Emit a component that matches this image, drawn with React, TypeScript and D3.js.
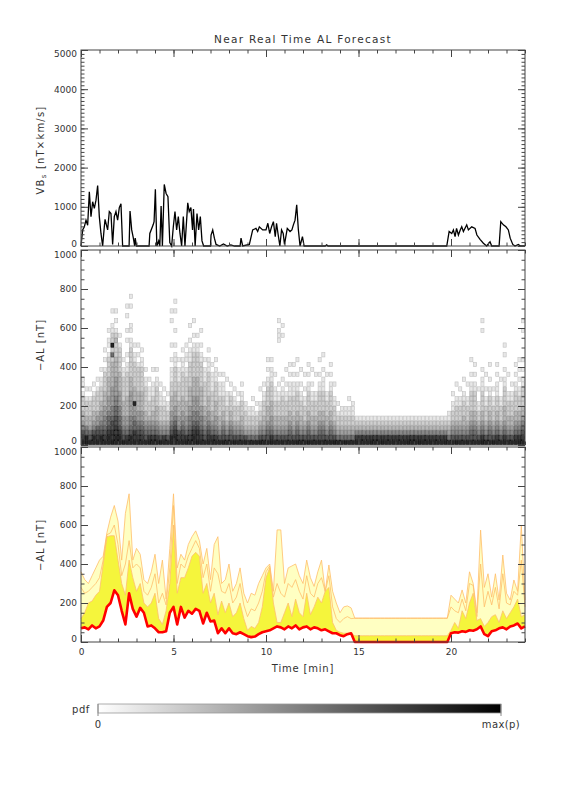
import React, { useRef, useEffect } from 'react';
import * as d3 from 'd3';

// top panel: VBs line (time in min, value in nT*km/s)
const vbsTime = [
  0, 0.09, 0.18, 0.27, 0.36, 0.45, 0.54, 0.63, 0.72, 0.81, 0.9, 0.99, 1.08, 1.17, 1.26, 1.3, 1.44, 1.53, 1.62, 1.71,
  1.8, 1.89, 1.98, 2.07, 2.16, 2.25, 2.6, 2.65, 2.74, 2.83, 2.9, 2.93, 3.0, 3.68, 3.72, 3.9, 3.95, 4.02, 4.1, 4.2,
  4.26, 4.33, 4.4, 4.5, 4.6, 4.7, 4.8, 4.9, 4.99, 5.08, 5.17, 5.26, 5.35, 5.44, 5.53, 5.62, 5.77, 5.85, 5.94, 6.03,
  6.08, 6.17, 6.27, 6.36, 6.45, 6.54, 6.63, 7.0, 7.03, 7.12, 7.21, 7.3, 7.5, 7.7, 7.9, 8.1, 8.3, 8.6, 8.65, 8.74,
  9.1, 9.28, 9.46, 9.55, 9.64, 9.82, 10.0, 10.1, 10.2, 10.3, 10.4, 10.5, 10.57, 10.66, 10.75, 10.84, 10.93, 11.0, 11.15, 11.3,
  11.4, 11.48, 11.57, 11.66, 11.75, 11.84, 11.97, 12.06, 13.2, 13.28, 13.35, 19.77, 19.9, 20.04, 20.13, 20.22, 20.3, 20.4, 20.5, 20.58,
  20.67, 20.85, 20.94, 21.12, 21.3, 21.4, 21.57, 21.75, 21.93, 22.11, 22.2, 22.6, 22.69, 22.83, 22.97, 23.1, 23.2, 23.34, 23.46, 23.64,
  23.75, 24,
];
const vbsValue = [
  0, 410, 490, 660, 530, 1380, 750, 1130, 960, 1170, 1540, 750, 320, 0, 490, 680, 410, 880, 830, 40,
  750, 880, 660, 980, 1080, 0, 0, 890, 410, 200, 0, 200, 0, 0, 320, 540, 620, 1450, 0, 130,
  0, 1020, 0, 1570, 1340, 1260, 85, 0, 490, 880, 410, 750, 320, 0, 750, 0, 1100, 880, 980, 410,
  940, 0, 830, 410, 750, 130, 0, 0, 280, 410, 200, 40, 0, 50, 0, 30, 0, 0, 200, 0,
  40, 410, 450, 370, 490, 410, 410, 580, 320, 490, 620, 240, 580, 280, 0, 410, 320, 40, 450, 370,
  410, 540, 660, 1050, 410, 0, 240, 0, 0, 30, 0, 0, 370, 320, 410, 240, 450, 280, 410, 490,
  370, 540, 410, 490, 450, 280, 170, 70, 0, 110, 0, 0, 620, 540, 490, 410, 200, 40, 0, 40,
  0, 0,
];

// bottom panel: forecast bands, one value every 0.2 min from 0 to 24
const bandStep = 0.2;
const alRed = [
  70, 75, 65, 85, 70, 80, 110, 180, 200, 265,
  240, 160, 90, 250, 170, 130, 175, 150, 80, 85,
  70, 50, 50, 55, 150, 180, 90, 180, 125, 160,
  145, 170, 160, 95, 150, 105, 110, 45, 70, 45,
  70, 45, 40, 50, 40, 30, 25, 28, 40, 50,
  55, 60, 70, 80, 75, 65, 80, 70, 85, 65,
  75, 80, 65, 75, 70, 60, 65, 55, 45, 45,
  35, 30, 40, 45, 0, 0, 0, 0, 0, 0,
  0, 0, 0, 0, 0, 0, 0, 0, 0, 0,
  0, 0, 0, 0, 0, 0, 0, 0, 0, 0,
  45, 50, 48, 55, 52, 60, 58, 65, 80, 40,
  30, 55, 60, 70, 75, 65, 80, 85, 95, 70,
  80,
];
const alYellow = [
  120, 150, 200, 210, 240, 260, 400, 540, 545, 545,
  420, 300, 240, 420, 330, 260, 300, 200, 180, 200,
  250, 120, 90, 160, 300, 600, 250, 330, 330, 380,
  440, 460, 440, 250, 300, 200, 250, 140, 210, 150,
  200, 130, 150, 200, 120, 60, 80, 70, 100, 180,
  330, 380, 200, 100, 100, 150, 200, 130, 220, 150,
  130, 250, 140, 180, 230, 200, 260, 280, 100, 60,
  50, 45, 45, 45, 32, 32, 32, 32, 32, 32,
  32, 32, 32, 32, 32, 32, 32, 32, 32, 32,
  32, 32, 32, 32, 32, 32, 32, 32, 32, 32,
  60, 100, 70, 160, 120, 200, 250, 110, 120, 80,
  100, 130, 140, 100, 160, 120, 150, 180, 220, 130,
  140,
];
const alMid = [
  280, 250, 260, 280, 300, 330, 420, 550, 560, 600,
  500, 340, 400, 520, 380, 400, 380, 260, 240, 280,
  350, 200, 250, 190, 380, 700, 300, 400, 380, 440,
  480, 520, 480, 330, 400, 260, 380, 350, 260, 250,
  300, 200, 230, 300, 190, 130, 170, 160, 200, 260,
  360, 390, 230, 300, 250, 230, 300, 280, 320, 260,
  220, 340, 250, 230, 300, 330, 260, 340, 180, 120,
  100, 120, 130, 120, 122, 122, 122, 122, 122, 122,
  122, 122, 122, 122, 122, 122, 122, 122, 122, 122,
  122, 122, 122, 122, 122, 122, 122, 122, 122, 122,
  180, 160, 150, 220, 160, 300, 290, 130, 400, 180,
  260, 190, 280, 170, 350, 200, 190, 260, 240, 420,
  180,
];
const alPale = [
  360, 320, 300, 340, 380, 420, 440, 560, 640, 700,
  620, 420, 660, 760, 420, 480, 450, 320, 300, 360,
  450, 300, 420, 220, 480, 760, 380, 450, 420, 500,
  540, 570, 520, 400, 480, 320, 500, 540, 300, 320,
  400, 260, 300, 380, 250, 200, 250, 240, 300, 340,
  380, 400, 260, 575, 575, 300, 380, 390, 400, 340,
  300, 420, 330, 285, 360, 420, 260, 395, 260, 200,
  150, 180, 185, 175, 122, 122, 122, 122, 122, 122,
  122, 122, 122, 122, 122, 122, 122, 122, 122, 122,
  122, 122, 122, 122, 122, 122, 122, 122, 122, 122,
  240, 220, 200, 267, 200, 360, 300, 150, 574, 280,
  350, 230, 350, 215, 446, 250, 215, 318, 260, 600,
  215,
];

// middle panel: pdf, one column per 0.2 min, one digit (0-9) per 25 nT bin from 0 upward
const pdfBin = 25;
const flat = '985321';
const pdfColumns = [
  '98754332221011', '9965332221010', '976433222101', '99754332221010', '98764432222101',
  '9976544332221101', '98765544333222210101', '998766544433332222101101', '9887765544443333326292211001', '9988776655444433332223210101',
  '99876655444333322222101', '9765443332222211010', '98654433332222211010010100101', '9976554444433322222211011000101', '9886654493332222211010',
  '987654433332222210101', '98765443333222221101', '97654332222211010', '986543222111010', '9865433222111001',
  '98654333222211010', '9754322211101', '985432221101', '97543221101', '9976544333222111010010000101',
  '998765443332222211101001000101', '9875443332222111010', '98765443332222211101', '986544333222221101101', '9876554433332222211101001',
  '99876554443333222221101001', '98876554443333222221101', '987655443333222221101001', '9765443322222111010', '98765443332222211101',
  '986543322221111010', '9865443332222111010', '975433222211101', '976543322211101', '97543222111001',
  '9765433222101', '975432221101', '97543222101', '9754332221101', '974322211',
  '96432211', '9643221101', '964322101', '975432211001', '9754332221101',
  '976543332222110101', '9865443332222111010', '975433222111001', '97543322211010000000011101', '9754332222110100000000101',
  '9754332221101001', '97654332221110101', '97543322221110101', '976543322221101001', '9754332221101001',
  '975432221101001', '97654332222110101', '9754332221101001', '975433222110001', '976543322221101001',
  '9765433222211101001', '975433222110001', '97654332222110101', '9754322211001', '964322101',
  '96432211', '964322110', '9643221101', '964322111', flat,
  flat, flat, flat, flat, flat,
  flat, flat, flat, flat, flat,
  flat, flat, flat, flat, flat,
  flat, flat, flat, flat, flat,
  flat, flat, flat, flat, '9643211',
  '97543221101', '9754322211001', '975432221101', '97543322211001', '9754322211001',
  '976543322221101001', '97654332222110101', '975432211001', '98654332222111010000000101', '975432221101001',
  '97654332221101001', '975432221101', '98654332221110101', '97543222110001', '986543332222110100101',
  '975433222110001', '9754332221101', '98654332222110101', '986543322211010101', '98765433222211010100000101',
];

const xMajor = [0, 5, 10, 15, 20];
const FONT = 'DejaVu Sans, sans-serif';
const INK = '#333';

export default function App() {
  const ref = useRef<SVGSVGElement>(null);

  useEffect(() => {
    const svg = d3.select(ref.current);
    svg.selectAll('*').remove();

    const x = d3.scaleLinear().domain([0, 24]).range([81, 525]);
    const yTop = d3.scaleLinear().domain([0, 5000]).range([246, 50]);
    const yMid = d3.scaleLinear().domain([0, 1000]).range([445, 250]);
    const yBot = d3.scaleLinear().domain([0, 1000]).range([642, 447]);
    const bandTime = alRed.map((_, i) => i * bandStep);

    // --- middle: pdf cells
    const grey = d3.scaleLinear<string>().domain([0, 9]).range(['#ffffff', '#000000']);
    const cells: { t: number; r: number; d: number }[] = [];
    pdfColumns.forEach((col, i) => {
      col.split('').forEach((ch, r) => {
        const d = +ch;
        if (d > 0) cells.push({ t: i * bandStep, r, d });
      });
    });
    svg.append('g')
      .selectAll('rect')
      .data(cells)
      .enter()
      .append('rect')
      .attr('x', d => x(d.t) + 0.3)
      .attr('width', d => x(d.t + bandStep) - x(d.t) - 0.6)
      .attr('y', d => yMid((d.r + 1) * pdfBin) + 0.3)
      .attr('height', d => yMid(d.r * pdfBin) - yMid((d.r + 1) * pdfBin) - 0.6)
      .attr('fill', d => grey(d.d * 0.85))
      .attr('stroke', d => grey(Math.min(9, d.d + 1.2)))
      .attr('stroke-width', 0.6);

    // --- bottom: bands
    const idx = d3.range(bandTime.length);
    const area = (lo: number[], hi: number[]) =>
      d3.area<number>().x(i => x(bandTime[i])).y0(i => yBot(lo[i])).y1(i => yBot(hi[i]))(idx);
    const line = (v: number[]) => d3.line<number>().x(i => x(bandTime[i])).y(i => yBot(v[i]))(idx);

    svg.append('path').attr('d', area(alYellow, alPale)).attr('fill', '#ffffc2');
    svg.append('path').attr('d', area(alRed, alYellow)).attr('fill', '#f5f53c');
    [alYellow, alMid, alPale].forEach(s => {
      svg.append('path').attr('d', line(s)).attr('fill', 'none')
        .attr('stroke', '#ffbe6a').attr('stroke-width', 0.8);
    });
    svg.append('path').attr('d', line(alRed)).attr('fill', 'none')
      .attr('stroke', '#ff0000').attr('stroke-width', 2.6).attr('stroke-linejoin', 'round');

    // --- top: VBs line
    const vbsLine = d3.line<number>().x(i => x(vbsTime[i])).y(i => yTop(vbsValue[i]));
    svg.append('path').attr('d', vbsLine(d3.range(vbsTime.length)))
      .attr('fill', 'none').attr('stroke', '#000').attr('stroke-width', 1.3);

    // --- frames and ticks
    const frame = (y: d3.ScaleLinear<number, number>, major: number[], minor: number[], xLabels: boolean, edge: [number, number]) => {
      const [y0, y1] = y.range();
      const g = svg.append('g').attr('font-family', FONT);
      const put = (axis: d3.Axis<d3.NumberValue>, tx: number, ty: number) => {
        const a = g.append('g').attr('transform', `translate(${tx},${ty})`).call(axis);
        a.select('.domain').remove();
        a.selectAll('line').attr('stroke', '#444');
        a.selectAll('text').attr('fill', INK).attr('font-size', 9).attr('font-family', FONT);
        return a;
      };
      const xMinor = d3.range(0, 25);
      put(d3.axisBottom(x).tickValues(xMinor).tickSize(-3.5).tickFormat(() => ''), 0, y0);
      put(d3.axisTop(x).tickValues(xMinor).tickSize(-3.5).tickFormat(() => ''), 0, y1);
      put(d3.axisTop(x).tickValues(xMajor).tickSize(-7).tickFormat(() => ''), 0, y1);
      put(d3.axisBottom(x).tickValues(xMajor).tickSize(-7).tickPadding(7)
        .tickFormat(d => (xLabels ? String(d) : '')), 0, y0);
      put(d3.axisLeft(y).tickValues(minor).tickSize(-3.5).tickFormat(() => ''), 81, 0);
      put(d3.axisRight(y).tickValues(minor).tickSize(-3.5).tickFormat(() => ''), 525, 0);
      put(d3.axisRight(y).tickValues(major).tickSize(-7).tickFormat(() => ''), 525, 0);
      const left = put(d3.axisLeft(y).tickValues(major).tickSize(-7).tickPadding(4).tickFormat(d3.format('d')), 81, 0);
      const labels = left.selectAll<SVGTextElement, number>('text');
      labels.filter(d => d === major[0]).attr('transform', `translate(0,${edge[0]})`);
      labels.filter(d => d === major[major.length - 1]).attr('transform', `translate(0,${edge[1]})`);
      g.append('rect').attr('x', 81).attr('y', y1).attr('width', 444).attr('height', y0 - y1)
        .attr('fill', 'none').attr('stroke', '#444').attr('stroke-width', 1);
    };
    frame(yTop, d3.range(0, 5001, 1000), d3.range(0, 5001, 100), false, [-2, 4]);
    frame(yMid, d3.range(0, 1001, 200), d3.range(0, 1001, 50), false, [-4.5, 4.5]);
    frame(yBot, d3.range(0, 1001, 200), d3.range(0, 1001, 50), true, [-3, 4.5]);

    // --- texts
    const txt = svg.append('g').attr('font-family', FONT).attr('fill', INK).attr('font-size', 10);
    txt.append('text').attr('x', 303).attr('y', 43).attr('text-anchor', 'middle').attr('font-size', 10.5)
      .attr('letter-spacing', 1.3).text('Near Real Time AL Forecast');
    txt.append('text').attr('x', 303).attr('y', 672).attr('text-anchor', 'middle')
      .attr('letter-spacing', 0.8).text('Time [min]');
    const vb = txt.append('text').attr('transform', 'translate(44,150) rotate(-90)')
      .attr('text-anchor', 'middle').attr('letter-spacing', 1.2);
    vb.append('tspan').text('VB');
    vb.append('tspan').attr('font-size', 7).attr('dy', 2).text('s');
    vb.append('tspan').attr('dy', -2).text(' [nT×km/s]');
    [345, 545].forEach(cy => {
      txt.append('text').attr('transform', `translate(44,${cy}) rotate(-90)`)
        .attr('text-anchor', 'middle').attr('letter-spacing', 1).text('−AL [nT]');
    });

    // --- colour bar
    const defs = svg.append('defs');
    const grad = defs.append('linearGradient').attr('id', 'pdfbar');
    grad.append('stop').attr('offset', '0%').attr('stop-color', grey(0));
    grad.append('stop').attr('offset', '100%').attr('stop-color', grey(9));
    const cb = d3.scaleLinear().domain([0, 1]).range([98, 501]);
    svg.append('rect').attr('x', cb(0)).attr('y', 704).attr('width', cb(1) - cb(0)).attr('height', 9)
      .attr('fill', 'url(#pdfbar)').attr('stroke', '#999').attr('stroke-width', 0.8);
    [0, 1].forEach(v => {
      svg.append('line').attr('x1', cb(v)).attr('x2', cb(v)).attr('y1', 704).attr('y2', 716)
        .attr('stroke', '#888');
    });
    txt.append('text').attr('x', 90).attr('y', 713).attr('text-anchor', 'end').attr('letter-spacing', 0.6).text('pdf');
    txt.append('text').attr('x', cb(0)).attr('y', 728).attr('text-anchor', 'middle').text('0');
    txt.append('text').attr('x', cb(1)).attr('y', 728).attr('text-anchor', 'middle').attr('letter-spacing', 0.4).text('max(p)');
  }, []);

  return (
    <svg ref={ref} width={576} height={792}
      style={{ position: 'absolute', left: 0, top: 0, background: '#fff' }} />
  );
}
